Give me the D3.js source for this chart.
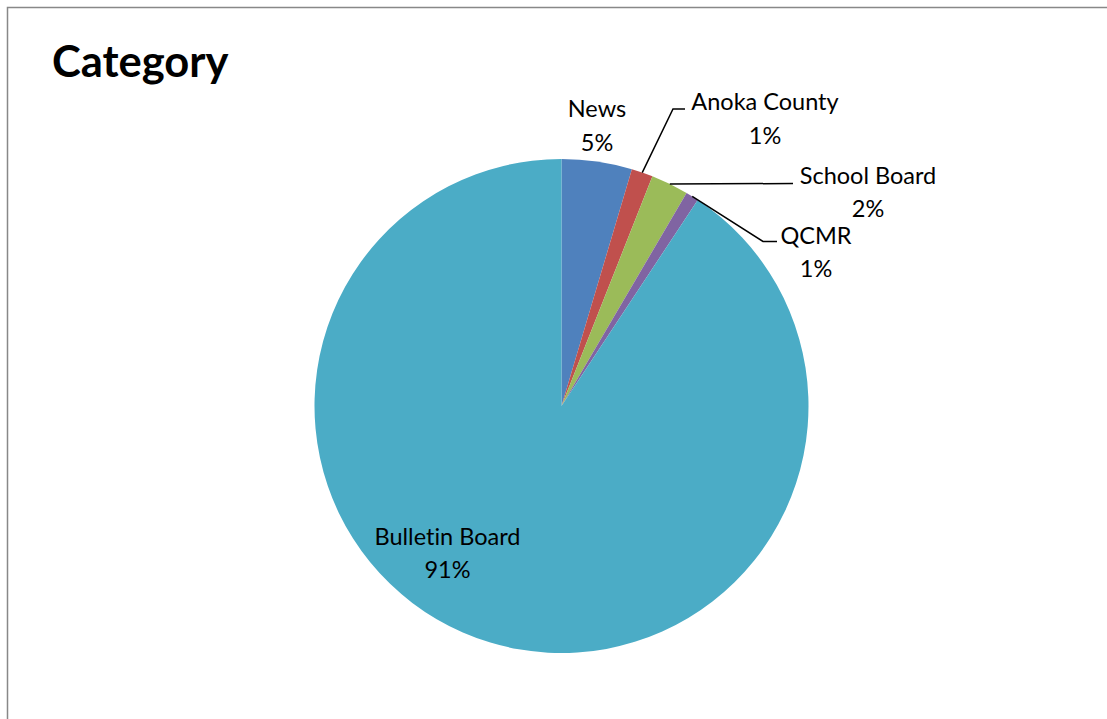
<!DOCTYPE html>
<html>
<head>
<meta charset="utf-8">
<script src="https://cdn.jsdelivr.net/npm/d3@7/dist/d3.min.js"></script>
<style>
  html, body { margin: 0; padding: 0; background: #ffffff; }
  svg { display: block; }
  text { font-variant-ligatures: none; }
</style>
</head>
<body>
<script>
// ---- data ----
const categories = ["News", "Anoka County", "School Board", "QCMR", "Bulletin Board"];
const shares = [4.6, 1.4, 2.45, 0.85, 90.7];
const colors = ["#4F81BD", "#C0504D", "#9BBB59", "#8064A2", "#4BACC6"];
const title = "Category";

// ---- layout ----
const W = 1107, H = 719;
const cx = 561.5, cy = 406, R = 247;
const fontFamily = "Lato, 'Open Sans', 'DejaVu Sans', sans-serif";
// label centers (x, baseline of first line) and leader line shape per slice
const labelPos = [
  { x: 597, y: 117, leader: null },
  { x: 765, y: 110, leader: { elbow: [673, 109], end: [685, 109] } },
  { x: 868, y: 183.5, leader: { elbow: null, end: [793, 183.5] } },
  { x: 816, y: 243.5, leader: { elbow: [763, 241.5], end: [777, 241.5] } },
  { x: 447.5, y: 544.5, leader: null }
];
const lineGap = 33.5;

const svg = d3.select("body").append("svg")
  .attr("width", W).attr("height", H);

svg.append("rect")
  .attr("x", 7.5).attr("y", 7.5)
  .attr("width", W + 20).attr("height", H + 20)
  .attr("fill", "#ffffff")
  .attr("stroke", "#888888")
  .attr("stroke-width", 1.5);

svg.append("text")
  .attr("x", 52).attr("y", 77)
  .attr("font-family", fontFamily)
  .attr("font-weight", "bold")
  .attr("font-size", 43.5)
  .attr("fill", "#000")
  .text(title);

const data = categories.map((c, i) => ({ name: c, value: shares[i], color: colors[i], i }));
const pie = d3.pie().value(d => d.value).sort(null);
const arcs = pie(data);
const arc = d3.arc().innerRadius(0).outerRadius(R);

const g = svg.append("g").attr("transform", `translate(${cx},${cy})`);
g.selectAll("path.slice").data(arcs).enter().append("path")
  .attr("class", "slice")
  .attr("d", arc)
  .attr("fill", d => d.data.color);

const total = d3.sum(shares);
const pct = d3.format(".0%");

// leader lines
arcs.forEach((a, i) => {
  const lp = labelPos[i];
  if (!lp.leader) return;
  const mid = (a.startAngle + a.endAngle) / 2;
  const sx = cx + R * Math.sin(mid), sy = cy - R * Math.cos(mid);
  const pts = [[sx, sy]];
  if (lp.leader.elbow) pts.push(lp.leader.elbow);
  pts.push(lp.leader.end);
  svg.append("path")
    .attr("d", d3.line()(pts))
    .attr("fill", "none")
    .attr("stroke", "#000")
    .attr("stroke-width", 1.5);
});

// labels
arcs.forEach((a, i) => {
  const lp = labelPos[i];
  const t = svg.append("text")
    .attr("font-family", fontFamily)
    .attr("font-size", 23.5)
    .attr("fill", "#000")
    .attr("text-anchor", "middle");
  t.append("tspan").attr("x", lp.x).attr("y", lp.y).text(a.data.name);
  t.append("tspan").attr("x", lp.x).attr("y", lp.y + lineGap).text(pct(a.data.value / total));
});
</script>
</body>
</html>
